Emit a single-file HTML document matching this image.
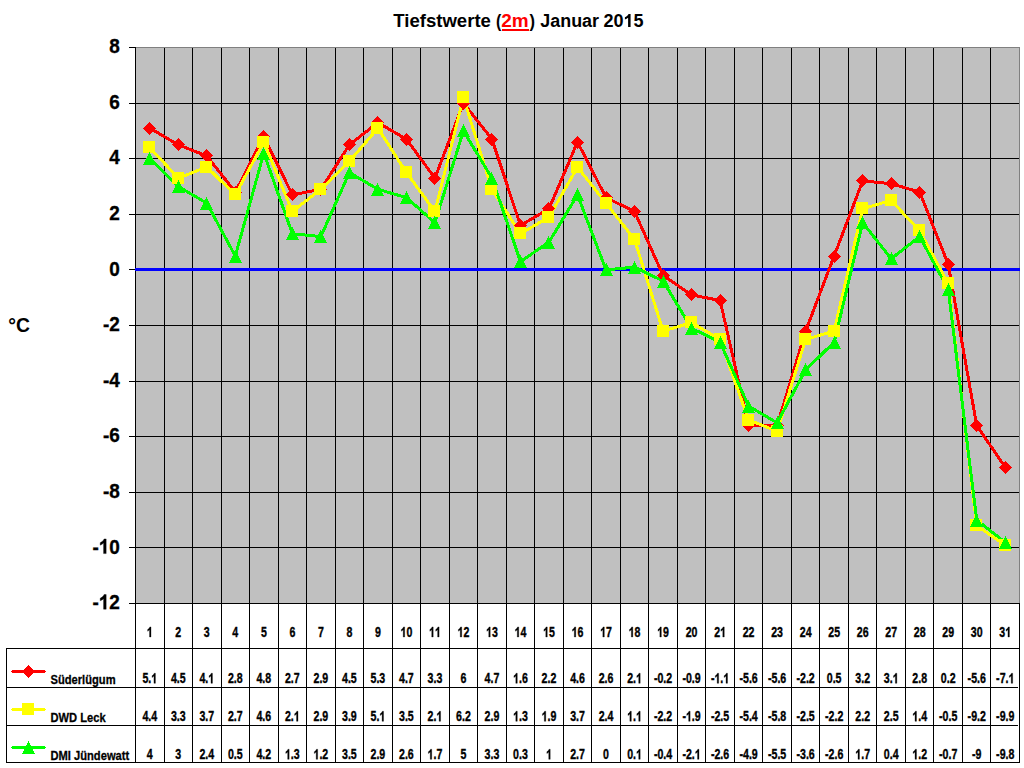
<!DOCTYPE html>
<html><head><meta charset="utf-8"><title>Tiefstwerte (2m) Januar 2015</title>
<style>html,body{margin:0;padding:0;background:#fff;width:1024px;height:768px;overflow:hidden}svg{display:block}text{font-family:"Liberation Sans",sans-serif;font-weight:bold;fill:#000}</style>
</head><body>
<svg width="1024" height="768" viewBox="0 0 1024 768">
<rect width="1024" height="768" fill="#fff"/>
<rect x="135" y="47" width="885" height="557" fill="#c0c0c0"/>
<g shape-rendering="crispEdges">
<rect x="135" y="47" width="885" height="1" fill="#808080"/>
<rect x="1019" y="47" width="1" height="557" fill="#808080"/>
<rect x="129" y="47" width="7" height="1" fill="#000"/>
<rect x="129" y="103" width="890" height="1" fill="#000"/>
<rect x="129" y="158" width="890" height="1" fill="#000"/>
<rect x="129" y="214" width="890" height="1" fill="#000"/>
<rect x="129" y="269" width="890" height="1" fill="#000"/>
<rect x="129" y="325" width="890" height="1" fill="#000"/>
<rect x="129" y="381" width="890" height="1" fill="#000"/>
<rect x="129" y="436" width="890" height="1" fill="#000"/>
<rect x="129" y="492" width="890" height="1" fill="#000"/>
<rect x="129" y="547" width="890" height="1" fill="#000"/>
<rect x="129" y="603" width="890" height="1" fill="#000"/>
<rect x="135" y="47" width="1" height="716" fill="#000"/>
<rect x="164" y="48" width="1" height="715" fill="#000"/>
<rect x="192" y="48" width="1" height="715" fill="#000"/>
<rect x="221" y="48" width="1" height="715" fill="#000"/>
<rect x="249" y="48" width="1" height="715" fill="#000"/>
<rect x="278" y="48" width="1" height="715" fill="#000"/>
<rect x="306" y="48" width="1" height="715" fill="#000"/>
<rect x="335" y="48" width="1" height="715" fill="#000"/>
<rect x="363" y="48" width="1" height="715" fill="#000"/>
<rect x="392" y="48" width="1" height="715" fill="#000"/>
<rect x="420" y="48" width="1" height="715" fill="#000"/>
<rect x="449" y="48" width="1" height="715" fill="#000"/>
<rect x="477" y="48" width="1" height="715" fill="#000"/>
<rect x="506" y="48" width="1" height="715" fill="#000"/>
<rect x="534" y="48" width="1" height="715" fill="#000"/>
<rect x="563" y="48" width="1" height="715" fill="#000"/>
<rect x="591" y="48" width="1" height="715" fill="#000"/>
<rect x="620" y="48" width="1" height="715" fill="#000"/>
<rect x="648" y="48" width="1" height="715" fill="#000"/>
<rect x="677" y="48" width="1" height="715" fill="#000"/>
<rect x="705" y="48" width="1" height="715" fill="#000"/>
<rect x="734" y="48" width="1" height="715" fill="#000"/>
<rect x="762" y="48" width="1" height="715" fill="#000"/>
<rect x="791" y="48" width="1" height="715" fill="#000"/>
<rect x="819" y="48" width="1" height="715" fill="#000"/>
<rect x="848" y="48" width="1" height="715" fill="#000"/>
<rect x="876" y="48" width="1" height="715" fill="#000"/>
<rect x="905" y="48" width="1" height="715" fill="#000"/>
<rect x="933" y="48" width="1" height="715" fill="#000"/>
<rect x="962" y="48" width="1" height="715" fill="#000"/>
<rect x="990" y="48" width="1" height="715" fill="#000"/>
<rect x="1019" y="603" width="1" height="160" fill="#000"/>
<rect x="6" y="648" width="1014" height="1" fill="#000"/>
<rect x="6" y="687" width="1012" height="1" fill="#000"/>
<rect x="6" y="725" width="1012" height="1" fill="#000"/>
<rect x="6" y="762" width="1014" height="1" fill="#000"/>
<rect x="6" y="648" width="1" height="115" fill="#000"/>
<rect x="135" y="268" width="885" height="3" fill="#0000ff"/>
</g>
<polyline points="149.76,128.12 178.27,144.80 206.79,155.92 235.31,192.06 263.82,136.46 292.34,194.84 320.85,189.28 349.37,144.80 377.89,122.56 406.40,139.24 434.92,178.16 463.44,103.10 491.95,139.24 520.47,225.42 548.98,208.74 577.50,142.02 606.02,197.62 634.53,211.52 663.05,275.46 691.56,294.92 720.08,300.48 748.60,425.58 777.11,425.58 805.63,331.06 834.15,256.00 862.66,180.94 891.18,183.72 919.69,192.06 948.21,264.34 976.73,425.58 1005.24,467.28" fill="none" stroke="#ff0000" stroke-width="3" stroke-linejoin="round" shape-rendering="crispEdges"/>
<polyline points="149.76,147.58 178.27,178.16 206.79,167.04 235.31,194.84 263.82,142.02 292.34,211.52 320.85,189.28 349.37,161.48 377.89,128.12 406.40,172.60 434.92,211.52 463.44,97.54 491.95,189.28 520.47,233.76 548.98,217.08 577.50,167.04 606.02,203.18 634.53,239.32 663.05,331.06 691.56,322.72 720.08,339.40 748.60,420.02 777.11,431.14 805.63,339.40 834.15,331.06 862.66,208.74 891.18,200.40 919.69,230.98 948.21,283.80 976.73,525.66 1005.24,545.12" fill="none" stroke="#ffff00" stroke-width="3" stroke-linejoin="round" shape-rendering="crispEdges"/>
<polyline points="149.76,158.70 178.27,186.50 206.79,203.18 235.31,256.00 263.82,153.14 292.34,233.76 320.85,236.54 349.37,172.60 377.89,189.28 406.40,197.62 434.92,222.64 463.44,130.90 491.95,178.16 520.47,261.56 548.98,242.10 577.50,194.84 606.02,269.90 634.53,267.12 663.05,281.02 691.56,328.28 720.08,342.18 748.60,406.12 777.11,422.80 805.63,369.98 834.15,342.18 862.66,222.64 891.18,258.78 919.69,236.54 948.21,289.36 976.73,520.10 1005.24,542.34" fill="none" stroke="#00ff00" stroke-width="3" stroke-linejoin="round" shape-rendering="crispEdges"/>
<path d="M143.0,128.5L149.5,122.0L156.0,128.5L149.5,135.0Z" fill="#ff0000" shape-rendering="crispEdges"/>
<path d="M172.0,144.5L178.5,138.0L185.0,144.5L178.5,151.0Z" fill="#ff0000" shape-rendering="crispEdges"/>
<path d="M200.0,155.5L206.5,149.0L213.0,155.5L206.5,162.0Z" fill="#ff0000" shape-rendering="crispEdges"/>
<path d="M229.0,192.5L235.5,186.0L242.0,192.5L235.5,199.0Z" fill="#ff0000" shape-rendering="crispEdges"/>
<path d="M257.0,136.5L263.5,130.0L270.0,136.5L263.5,143.0Z" fill="#ff0000" shape-rendering="crispEdges"/>
<path d="M286.0,194.5L292.5,188.0L299.0,194.5L292.5,201.0Z" fill="#ff0000" shape-rendering="crispEdges"/>
<path d="M314.0,189.5L320.5,183.0L327.0,189.5L320.5,196.0Z" fill="#ff0000" shape-rendering="crispEdges"/>
<path d="M343.0,144.5L349.5,138.0L356.0,144.5L349.5,151.0Z" fill="#ff0000" shape-rendering="crispEdges"/>
<path d="M371.0,122.5L377.5,116.0L384.0,122.5L377.5,129.0Z" fill="#ff0000" shape-rendering="crispEdges"/>
<path d="M400.0,139.5L406.5,133.0L413.0,139.5L406.5,146.0Z" fill="#ff0000" shape-rendering="crispEdges"/>
<path d="M428.0,178.5L434.5,172.0L441.0,178.5L434.5,185.0Z" fill="#ff0000" shape-rendering="crispEdges"/>
<path d="M457.0,103.5L463.5,97.0L470.0,103.5L463.5,110.0Z" fill="#ff0000" shape-rendering="crispEdges"/>
<path d="M485.0,139.5L491.5,133.0L498.0,139.5L491.5,146.0Z" fill="#ff0000" shape-rendering="crispEdges"/>
<path d="M514.0,225.5L520.5,219.0L527.0,225.5L520.5,232.0Z" fill="#ff0000" shape-rendering="crispEdges"/>
<path d="M542.0,208.5L548.5,202.0L555.0,208.5L548.5,215.0Z" fill="#ff0000" shape-rendering="crispEdges"/>
<path d="M571.0,142.5L577.5,136.0L584.0,142.5L577.5,149.0Z" fill="#ff0000" shape-rendering="crispEdges"/>
<path d="M600.0,197.5L606.5,191.0L613.0,197.5L606.5,204.0Z" fill="#ff0000" shape-rendering="crispEdges"/>
<path d="M628.0,211.5L634.5,205.0L641.0,211.5L634.5,218.0Z" fill="#ff0000" shape-rendering="crispEdges"/>
<path d="M657.0,275.5L663.5,269.0L670.0,275.5L663.5,282.0Z" fill="#ff0000" shape-rendering="crispEdges"/>
<path d="M685.0,294.5L691.5,288.0L698.0,294.5L691.5,301.0Z" fill="#ff0000" shape-rendering="crispEdges"/>
<path d="M714.0,300.5L720.5,294.0L727.0,300.5L720.5,307.0Z" fill="#ff0000" shape-rendering="crispEdges"/>
<path d="M742.0,425.5L748.5,419.0L755.0,425.5L748.5,432.0Z" fill="#ff0000" shape-rendering="crispEdges"/>
<path d="M771.0,425.5L777.5,419.0L784.0,425.5L777.5,432.0Z" fill="#ff0000" shape-rendering="crispEdges"/>
<path d="M799.0,331.5L805.5,325.0L812.0,331.5L805.5,338.0Z" fill="#ff0000" shape-rendering="crispEdges"/>
<path d="M828.0,256.5L834.5,250.0L841.0,256.5L834.5,263.0Z" fill="#ff0000" shape-rendering="crispEdges"/>
<path d="M856.0,180.5L862.5,174.0L869.0,180.5L862.5,187.0Z" fill="#ff0000" shape-rendering="crispEdges"/>
<path d="M885.0,183.5L891.5,177.0L898.0,183.5L891.5,190.0Z" fill="#ff0000" shape-rendering="crispEdges"/>
<path d="M913.0,192.5L919.5,186.0L926.0,192.5L919.5,199.0Z" fill="#ff0000" shape-rendering="crispEdges"/>
<path d="M942.0,264.5L948.5,258.0L955.0,264.5L948.5,271.0Z" fill="#ff0000" shape-rendering="crispEdges"/>
<path d="M970.0,425.5L976.5,419.0L983.0,425.5L976.5,432.0Z" fill="#ff0000" shape-rendering="crispEdges"/>
<path d="M999.0,467.5L1005.5,461.0L1012.0,467.5L1005.5,474.0Z" fill="#ff0000" shape-rendering="crispEdges"/>
<rect x="143" y="141" width="12" height="12" fill="#ffff00" shape-rendering="crispEdges"/>
<rect x="172" y="172" width="12" height="12" fill="#ffff00" shape-rendering="crispEdges"/>
<rect x="200" y="161" width="12" height="12" fill="#ffff00" shape-rendering="crispEdges"/>
<rect x="229" y="188" width="12" height="12" fill="#ffff00" shape-rendering="crispEdges"/>
<rect x="257" y="136" width="12" height="12" fill="#ffff00" shape-rendering="crispEdges"/>
<rect x="286" y="205" width="12" height="12" fill="#ffff00" shape-rendering="crispEdges"/>
<rect x="314" y="183" width="12" height="12" fill="#ffff00" shape-rendering="crispEdges"/>
<rect x="343" y="155" width="12" height="12" fill="#ffff00" shape-rendering="crispEdges"/>
<rect x="371" y="122" width="12" height="12" fill="#ffff00" shape-rendering="crispEdges"/>
<rect x="400" y="166" width="12" height="12" fill="#ffff00" shape-rendering="crispEdges"/>
<rect x="428" y="205" width="12" height="12" fill="#ffff00" shape-rendering="crispEdges"/>
<rect x="457" y="91" width="12" height="12" fill="#ffff00" shape-rendering="crispEdges"/>
<rect x="485" y="183" width="12" height="12" fill="#ffff00" shape-rendering="crispEdges"/>
<rect x="514" y="227" width="12" height="12" fill="#ffff00" shape-rendering="crispEdges"/>
<rect x="542" y="211" width="12" height="12" fill="#ffff00" shape-rendering="crispEdges"/>
<rect x="571" y="161" width="12" height="12" fill="#ffff00" shape-rendering="crispEdges"/>
<rect x="600" y="197" width="12" height="12" fill="#ffff00" shape-rendering="crispEdges"/>
<rect x="628" y="233" width="12" height="12" fill="#ffff00" shape-rendering="crispEdges"/>
<rect x="657" y="325" width="12" height="12" fill="#ffff00" shape-rendering="crispEdges"/>
<rect x="685" y="316" width="12" height="12" fill="#ffff00" shape-rendering="crispEdges"/>
<rect x="714" y="333" width="12" height="12" fill="#ffff00" shape-rendering="crispEdges"/>
<rect x="742" y="414" width="12" height="12" fill="#ffff00" shape-rendering="crispEdges"/>
<rect x="771" y="425" width="12" height="12" fill="#ffff00" shape-rendering="crispEdges"/>
<rect x="799" y="333" width="12" height="12" fill="#ffff00" shape-rendering="crispEdges"/>
<rect x="828" y="325" width="12" height="12" fill="#ffff00" shape-rendering="crispEdges"/>
<rect x="856" y="202" width="12" height="12" fill="#ffff00" shape-rendering="crispEdges"/>
<rect x="885" y="194" width="12" height="12" fill="#ffff00" shape-rendering="crispEdges"/>
<rect x="913" y="224" width="12" height="12" fill="#ffff00" shape-rendering="crispEdges"/>
<rect x="942" y="277" width="12" height="12" fill="#ffff00" shape-rendering="crispEdges"/>
<rect x="970" y="519" width="12" height="12" fill="#ffff00" shape-rendering="crispEdges"/>
<rect x="999" y="539" width="12" height="12" fill="#ffff00" shape-rendering="crispEdges"/>
<path d="M149.5,152.0L156.0,165.0L143.0,165.0Z" fill="#00ff00" shape-rendering="crispEdges"/>
<path d="M178.5,180.0L185.0,193.0L172.0,193.0Z" fill="#00ff00" shape-rendering="crispEdges"/>
<path d="M206.5,197.0L213.0,210.0L200.0,210.0Z" fill="#00ff00" shape-rendering="crispEdges"/>
<path d="M235.5,250.0L242.0,263.0L229.0,263.0Z" fill="#00ff00" shape-rendering="crispEdges"/>
<path d="M263.5,147.0L270.0,160.0L257.0,160.0Z" fill="#00ff00" shape-rendering="crispEdges"/>
<path d="M292.5,227.0L299.0,240.0L286.0,240.0Z" fill="#00ff00" shape-rendering="crispEdges"/>
<path d="M320.5,230.0L327.0,243.0L314.0,243.0Z" fill="#00ff00" shape-rendering="crispEdges"/>
<path d="M349.5,166.0L356.0,179.0L343.0,179.0Z" fill="#00ff00" shape-rendering="crispEdges"/>
<path d="M377.5,183.0L384.0,196.0L371.0,196.0Z" fill="#00ff00" shape-rendering="crispEdges"/>
<path d="M406.5,191.0L413.0,204.0L400.0,204.0Z" fill="#00ff00" shape-rendering="crispEdges"/>
<path d="M434.5,216.0L441.0,229.0L428.0,229.0Z" fill="#00ff00" shape-rendering="crispEdges"/>
<path d="M463.5,124.0L470.0,137.0L457.0,137.0Z" fill="#00ff00" shape-rendering="crispEdges"/>
<path d="M491.5,172.0L498.0,185.0L485.0,185.0Z" fill="#00ff00" shape-rendering="crispEdges"/>
<path d="M520.5,255.0L527.0,268.0L514.0,268.0Z" fill="#00ff00" shape-rendering="crispEdges"/>
<path d="M548.5,236.0L555.0,249.0L542.0,249.0Z" fill="#00ff00" shape-rendering="crispEdges"/>
<path d="M577.5,188.0L584.0,201.0L571.0,201.0Z" fill="#00ff00" shape-rendering="crispEdges"/>
<path d="M606.5,263.0L613.0,276.0L600.0,276.0Z" fill="#00ff00" shape-rendering="crispEdges"/>
<path d="M634.5,261.0L641.0,274.0L628.0,274.0Z" fill="#00ff00" shape-rendering="crispEdges"/>
<path d="M663.5,275.0L670.0,288.0L657.0,288.0Z" fill="#00ff00" shape-rendering="crispEdges"/>
<path d="M691.5,322.0L698.0,335.0L685.0,335.0Z" fill="#00ff00" shape-rendering="crispEdges"/>
<path d="M720.5,336.0L727.0,349.0L714.0,349.0Z" fill="#00ff00" shape-rendering="crispEdges"/>
<path d="M748.5,400.0L755.0,413.0L742.0,413.0Z" fill="#00ff00" shape-rendering="crispEdges"/>
<path d="M777.5,416.0L784.0,429.0L771.0,429.0Z" fill="#00ff00" shape-rendering="crispEdges"/>
<path d="M805.5,363.0L812.0,376.0L799.0,376.0Z" fill="#00ff00" shape-rendering="crispEdges"/>
<path d="M834.5,336.0L841.0,349.0L828.0,349.0Z" fill="#00ff00" shape-rendering="crispEdges"/>
<path d="M862.5,216.0L869.0,229.0L856.0,229.0Z" fill="#00ff00" shape-rendering="crispEdges"/>
<path d="M891.5,252.0L898.0,265.0L885.0,265.0Z" fill="#00ff00" shape-rendering="crispEdges"/>
<path d="M919.5,230.0L926.0,243.0L913.0,243.0Z" fill="#00ff00" shape-rendering="crispEdges"/>
<path d="M948.5,283.0L955.0,296.0L942.0,296.0Z" fill="#00ff00" shape-rendering="crispEdges"/>
<path d="M976.5,514.0L983.0,527.0L970.0,527.0Z" fill="#00ff00" shape-rendering="crispEdges"/>
<path d="M1005.5,536.0L1012.0,549.0L999.0,549.0Z" fill="#00ff00" shape-rendering="crispEdges"/>
<text transform="translate(393.30,27) scale(1.0319,1)" font-size="18" font-family="Liberation Sans, sans-serif" font-weight="bold" style="fill:#000">Tiefstwerte</text>
<text transform="translate(496.12,27) scale(0.8800,1)" font-size="18" font-family="Liberation Sans, sans-serif" font-weight="bold" style="fill:#000">(</text>
<text transform="translate(501.25,27) scale(1.0542,1)" font-size="18" font-family="Liberation Sans, sans-serif" font-weight="bold" style="fill:#ff0000">2m</text>
<text transform="translate(529.60,27) scale(0.9200,1)" font-size="18" font-family="Liberation Sans, sans-serif" font-weight="bold" style="fill:#000">)</text>
<text transform="translate(540.30,27) scale(0.9949,1)" font-size="18" font-family="Liberation Sans, sans-serif" font-weight="bold" style="fill:#000">Januar</text>
<g transform="translate(603.40,27.00) scale(1.0026,1)" style="fill:#000"><text x="0.00" font-size="18" font-family="Liberation Sans, sans-serif" font-weight="bold" style="fill:#000">20</text><path transform="translate(20.02,0) scale(0.008789,-0.008789)" d="M806 0L525 0L525 1059Q371 915 162 846L162 1101Q272 1137 401 1237.5Q530 1338 578 1472L806 1472Z"/><text x="30.02" font-size="18" font-family="Liberation Sans, sans-serif" font-weight="bold" style="fill:#000">5</text></g>
<rect x="502" y="29" width="27" height="2" fill="#ff0000" shape-rendering="crispEdges"/>
<g transform="translate(119.80,53.20) scale(0.93,1)" style="fill:#000" stroke="#000" stroke-width="0.35"><text x="-11.34" font-size="20.4" font-family="Liberation Sans, sans-serif" font-weight="bold" style="fill:#000">8</text></g>
<g transform="translate(119.80,108.80) scale(0.93,1)" style="fill:#000" stroke="#000" stroke-width="0.35"><text x="-11.34" font-size="20.4" font-family="Liberation Sans, sans-serif" font-weight="bold" style="fill:#000">6</text></g>
<g transform="translate(119.80,164.40) scale(0.93,1)" style="fill:#000" stroke="#000" stroke-width="0.35"><text x="-11.34" font-size="20.4" font-family="Liberation Sans, sans-serif" font-weight="bold" style="fill:#000">4</text></g>
<g transform="translate(119.80,220.00) scale(0.93,1)" style="fill:#000" stroke="#000" stroke-width="0.35"><text x="-11.34" font-size="20.4" font-family="Liberation Sans, sans-serif" font-weight="bold" style="fill:#000">2</text></g>
<g transform="translate(119.80,275.60) scale(0.93,1)" style="fill:#000" stroke="#000" stroke-width="0.35"><text x="-11.34" font-size="20.4" font-family="Liberation Sans, sans-serif" font-weight="bold" style="fill:#000">0</text></g>
<g transform="translate(119.80,331.20) scale(0.93,1)" style="fill:#000" stroke="#000" stroke-width="0.35"><text x="-18.14" font-size="20.4" font-family="Liberation Sans, sans-serif" font-weight="bold" style="fill:#000">-2</text></g>
<g transform="translate(119.80,386.80) scale(0.93,1)" style="fill:#000" stroke="#000" stroke-width="0.35"><text x="-18.14" font-size="20.4" font-family="Liberation Sans, sans-serif" font-weight="bold" style="fill:#000">-4</text></g>
<g transform="translate(119.80,442.40) scale(0.93,1)" style="fill:#000" stroke="#000" stroke-width="0.35"><text x="-18.14" font-size="20.4" font-family="Liberation Sans, sans-serif" font-weight="bold" style="fill:#000">-6</text></g>
<g transform="translate(119.80,498.00) scale(0.93,1)" style="fill:#000" stroke="#000" stroke-width="0.35"><text x="-18.14" font-size="20.4" font-family="Liberation Sans, sans-serif" font-weight="bold" style="fill:#000">-8</text></g>
<g transform="translate(119.80,553.60) scale(0.93,1)" style="fill:#000" stroke="#000" stroke-width="0.35"><text x="-29.48" font-size="20.4" font-family="Liberation Sans, sans-serif" font-weight="bold" style="fill:#000">-</text><path transform="translate(-22.68,0) scale(0.009961,-0.009961)" d="M806 0L525 0L525 1059Q371 915 162 846L162 1101Q272 1137 401 1237.5Q530 1338 578 1472L806 1472Z" stroke-width="35.1"/><text x="-11.34" font-size="20.4" font-family="Liberation Sans, sans-serif" font-weight="bold" style="fill:#000">0</text></g>
<g transform="translate(119.80,609.20) scale(0.93,1)" style="fill:#000" stroke="#000" stroke-width="0.35"><text x="-29.48" font-size="20.4" font-family="Liberation Sans, sans-serif" font-weight="bold" style="fill:#000">-</text><path transform="translate(-22.68,0) scale(0.009961,-0.009961)" d="M806 0L525 0L525 1059Q371 915 162 846L162 1101Q272 1137 401 1237.5Q530 1338 578 1472L806 1472Z" stroke-width="35.1"/><text x="-11.34" font-size="20.4" font-family="Liberation Sans, sans-serif" font-weight="bold" style="fill:#000">2</text></g>
<text transform="translate(8.3,331.8) scale(0.95,1)" font-size="20.4" font-family="Liberation Sans, sans-serif" font-weight="bold">°C</text>
<g transform="translate(149.76,637.00) scale(0.758,1)" style="fill:#000" stroke="#000" stroke-width="0.35"><path transform="translate(-3.89,0) scale(0.006836,-0.006836)" d="M806 0L525 0L525 1059Q371 915 162 846L162 1101Q272 1137 401 1237.5Q530 1338 578 1472L806 1472Z" stroke-width="51.2"/></g>
<g transform="translate(178.27,637.00) scale(0.758,1)" style="fill:#000" stroke="#000" stroke-width="0.35"><text x="-3.89" font-size="14" font-family="Liberation Sans, sans-serif" font-weight="bold" style="fill:#000">2</text></g>
<g transform="translate(206.79,637.00) scale(0.758,1)" style="fill:#000" stroke="#000" stroke-width="0.35"><text x="-3.89" font-size="14" font-family="Liberation Sans, sans-serif" font-weight="bold" style="fill:#000">3</text></g>
<g transform="translate(235.31,637.00) scale(0.758,1)" style="fill:#000" stroke="#000" stroke-width="0.35"><text x="-3.89" font-size="14" font-family="Liberation Sans, sans-serif" font-weight="bold" style="fill:#000">4</text></g>
<g transform="translate(263.82,637.00) scale(0.758,1)" style="fill:#000" stroke="#000" stroke-width="0.35"><text x="-3.89" font-size="14" font-family="Liberation Sans, sans-serif" font-weight="bold" style="fill:#000">5</text></g>
<g transform="translate(292.34,637.00) scale(0.758,1)" style="fill:#000" stroke="#000" stroke-width="0.35"><text x="-3.89" font-size="14" font-family="Liberation Sans, sans-serif" font-weight="bold" style="fill:#000">6</text></g>
<g transform="translate(320.85,637.00) scale(0.758,1)" style="fill:#000" stroke="#000" stroke-width="0.35"><text x="-3.89" font-size="14" font-family="Liberation Sans, sans-serif" font-weight="bold" style="fill:#000">7</text></g>
<g transform="translate(349.37,637.00) scale(0.758,1)" style="fill:#000" stroke="#000" stroke-width="0.35"><text x="-3.89" font-size="14" font-family="Liberation Sans, sans-serif" font-weight="bold" style="fill:#000">8</text></g>
<g transform="translate(377.89,637.00) scale(0.758,1)" style="fill:#000" stroke="#000" stroke-width="0.35"><text x="-3.89" font-size="14" font-family="Liberation Sans, sans-serif" font-weight="bold" style="fill:#000">9</text></g>
<g transform="translate(406.40,637.00) scale(0.758,1)" style="fill:#000" stroke="#000" stroke-width="0.35"><path transform="translate(-7.78,0) scale(0.006836,-0.006836)" d="M806 0L525 0L525 1059Q371 915 162 846L162 1101Q272 1137 401 1237.5Q530 1338 578 1472L806 1472Z" stroke-width="51.2"/><text x="0.00" font-size="14" font-family="Liberation Sans, sans-serif" font-weight="bold" style="fill:#000">0</text></g>
<g transform="translate(434.92,637.00) scale(0.758,1)" style="fill:#000" stroke="#000" stroke-width="0.35"><path transform="translate(-7.78,0) scale(0.006836,-0.006836)" d="M806 0L525 0L525 1059Q371 915 162 846L162 1101Q272 1137 401 1237.5Q530 1338 578 1472L806 1472Z" stroke-width="51.2"/><path transform="translate(0.00,0) scale(0.006836,-0.006836)" d="M806 0L525 0L525 1059Q371 915 162 846L162 1101Q272 1137 401 1237.5Q530 1338 578 1472L806 1472Z" stroke-width="51.2"/></g>
<g transform="translate(463.44,637.00) scale(0.758,1)" style="fill:#000" stroke="#000" stroke-width="0.35"><path transform="translate(-7.78,0) scale(0.006836,-0.006836)" d="M806 0L525 0L525 1059Q371 915 162 846L162 1101Q272 1137 401 1237.5Q530 1338 578 1472L806 1472Z" stroke-width="51.2"/><text x="0.00" font-size="14" font-family="Liberation Sans, sans-serif" font-weight="bold" style="fill:#000">2</text></g>
<g transform="translate(491.95,637.00) scale(0.758,1)" style="fill:#000" stroke="#000" stroke-width="0.35"><path transform="translate(-7.78,0) scale(0.006836,-0.006836)" d="M806 0L525 0L525 1059Q371 915 162 846L162 1101Q272 1137 401 1237.5Q530 1338 578 1472L806 1472Z" stroke-width="51.2"/><text x="0.00" font-size="14" font-family="Liberation Sans, sans-serif" font-weight="bold" style="fill:#000">3</text></g>
<g transform="translate(520.47,637.00) scale(0.758,1)" style="fill:#000" stroke="#000" stroke-width="0.35"><path transform="translate(-7.78,0) scale(0.006836,-0.006836)" d="M806 0L525 0L525 1059Q371 915 162 846L162 1101Q272 1137 401 1237.5Q530 1338 578 1472L806 1472Z" stroke-width="51.2"/><text x="0.00" font-size="14" font-family="Liberation Sans, sans-serif" font-weight="bold" style="fill:#000">4</text></g>
<g transform="translate(548.98,637.00) scale(0.758,1)" style="fill:#000" stroke="#000" stroke-width="0.35"><path transform="translate(-7.78,0) scale(0.006836,-0.006836)" d="M806 0L525 0L525 1059Q371 915 162 846L162 1101Q272 1137 401 1237.5Q530 1338 578 1472L806 1472Z" stroke-width="51.2"/><text x="0.00" font-size="14" font-family="Liberation Sans, sans-serif" font-weight="bold" style="fill:#000">5</text></g>
<g transform="translate(577.50,637.00) scale(0.758,1)" style="fill:#000" stroke="#000" stroke-width="0.35"><path transform="translate(-7.78,0) scale(0.006836,-0.006836)" d="M806 0L525 0L525 1059Q371 915 162 846L162 1101Q272 1137 401 1237.5Q530 1338 578 1472L806 1472Z" stroke-width="51.2"/><text x="0.00" font-size="14" font-family="Liberation Sans, sans-serif" font-weight="bold" style="fill:#000">6</text></g>
<g transform="translate(606.02,637.00) scale(0.758,1)" style="fill:#000" stroke="#000" stroke-width="0.35"><path transform="translate(-7.78,0) scale(0.006836,-0.006836)" d="M806 0L525 0L525 1059Q371 915 162 846L162 1101Q272 1137 401 1237.5Q530 1338 578 1472L806 1472Z" stroke-width="51.2"/><text x="0.00" font-size="14" font-family="Liberation Sans, sans-serif" font-weight="bold" style="fill:#000">7</text></g>
<g transform="translate(634.53,637.00) scale(0.758,1)" style="fill:#000" stroke="#000" stroke-width="0.35"><path transform="translate(-7.78,0) scale(0.006836,-0.006836)" d="M806 0L525 0L525 1059Q371 915 162 846L162 1101Q272 1137 401 1237.5Q530 1338 578 1472L806 1472Z" stroke-width="51.2"/><text x="0.00" font-size="14" font-family="Liberation Sans, sans-serif" font-weight="bold" style="fill:#000">8</text></g>
<g transform="translate(663.05,637.00) scale(0.758,1)" style="fill:#000" stroke="#000" stroke-width="0.35"><path transform="translate(-7.78,0) scale(0.006836,-0.006836)" d="M806 0L525 0L525 1059Q371 915 162 846L162 1101Q272 1137 401 1237.5Q530 1338 578 1472L806 1472Z" stroke-width="51.2"/><text x="0.00" font-size="14" font-family="Liberation Sans, sans-serif" font-weight="bold" style="fill:#000">9</text></g>
<g transform="translate(691.56,637.00) scale(0.758,1)" style="fill:#000" stroke="#000" stroke-width="0.35"><text x="-7.78" font-size="14" font-family="Liberation Sans, sans-serif" font-weight="bold" style="fill:#000">20</text></g>
<g transform="translate(720.08,637.00) scale(0.758,1)" style="fill:#000" stroke="#000" stroke-width="0.35"><text x="-7.78" font-size="14" font-family="Liberation Sans, sans-serif" font-weight="bold" style="fill:#000">2</text><path transform="translate(0.00,0) scale(0.006836,-0.006836)" d="M806 0L525 0L525 1059Q371 915 162 846L162 1101Q272 1137 401 1237.5Q530 1338 578 1472L806 1472Z" stroke-width="51.2"/></g>
<g transform="translate(748.60,637.00) scale(0.758,1)" style="fill:#000" stroke="#000" stroke-width="0.35"><text x="-7.78" font-size="14" font-family="Liberation Sans, sans-serif" font-weight="bold" style="fill:#000">22</text></g>
<g transform="translate(777.11,637.00) scale(0.758,1)" style="fill:#000" stroke="#000" stroke-width="0.35"><text x="-7.78" font-size="14" font-family="Liberation Sans, sans-serif" font-weight="bold" style="fill:#000">23</text></g>
<g transform="translate(805.63,637.00) scale(0.758,1)" style="fill:#000" stroke="#000" stroke-width="0.35"><text x="-7.78" font-size="14" font-family="Liberation Sans, sans-serif" font-weight="bold" style="fill:#000">24</text></g>
<g transform="translate(834.15,637.00) scale(0.758,1)" style="fill:#000" stroke="#000" stroke-width="0.35"><text x="-7.78" font-size="14" font-family="Liberation Sans, sans-serif" font-weight="bold" style="fill:#000">25</text></g>
<g transform="translate(862.66,637.00) scale(0.758,1)" style="fill:#000" stroke="#000" stroke-width="0.35"><text x="-7.78" font-size="14" font-family="Liberation Sans, sans-serif" font-weight="bold" style="fill:#000">26</text></g>
<g transform="translate(891.18,637.00) scale(0.758,1)" style="fill:#000" stroke="#000" stroke-width="0.35"><text x="-7.78" font-size="14" font-family="Liberation Sans, sans-serif" font-weight="bold" style="fill:#000">27</text></g>
<g transform="translate(919.69,637.00) scale(0.758,1)" style="fill:#000" stroke="#000" stroke-width="0.35"><text x="-7.78" font-size="14" font-family="Liberation Sans, sans-serif" font-weight="bold" style="fill:#000">28</text></g>
<g transform="translate(948.21,637.00) scale(0.758,1)" style="fill:#000" stroke="#000" stroke-width="0.35"><text x="-7.78" font-size="14" font-family="Liberation Sans, sans-serif" font-weight="bold" style="fill:#000">29</text></g>
<g transform="translate(976.73,637.00) scale(0.758,1)" style="fill:#000" stroke="#000" stroke-width="0.35"><text x="-7.78" font-size="14" font-family="Liberation Sans, sans-serif" font-weight="bold" style="fill:#000">30</text></g>
<g transform="translate(1005.24,637.00) scale(0.758,1)" style="fill:#000" stroke="#000" stroke-width="0.35"><text x="-7.78" font-size="14" font-family="Liberation Sans, sans-serif" font-weight="bold" style="fill:#000">3</text><path transform="translate(0.00,0) scale(0.006836,-0.006836)" d="M806 0L525 0L525 1059Q371 915 162 846L162 1101Q272 1137 401 1237.5Q530 1338 578 1472L806 1472Z" stroke-width="51.2"/></g>
<g transform="translate(149.76,683.30) scale(0.758,1)" style="fill:#000" stroke="#000" stroke-width="0.35"><text x="-9.73" font-size="14" font-family="Liberation Sans, sans-serif" font-weight="bold" style="fill:#000">5.</text><path transform="translate(1.95,0) scale(0.006836,-0.006836)" d="M806 0L525 0L525 1059Q371 915 162 846L162 1101Q272 1137 401 1237.5Q530 1338 578 1472L806 1472Z" stroke-width="51.2"/></g>
<g transform="translate(178.27,683.30) scale(0.758,1)" style="fill:#000" stroke="#000" stroke-width="0.35"><text x="-9.73" font-size="14" font-family="Liberation Sans, sans-serif" font-weight="bold" style="fill:#000">4.5</text></g>
<g transform="translate(206.79,683.30) scale(0.758,1)" style="fill:#000" stroke="#000" stroke-width="0.35"><text x="-9.73" font-size="14" font-family="Liberation Sans, sans-serif" font-weight="bold" style="fill:#000">4.</text><path transform="translate(1.95,0) scale(0.006836,-0.006836)" d="M806 0L525 0L525 1059Q371 915 162 846L162 1101Q272 1137 401 1237.5Q530 1338 578 1472L806 1472Z" stroke-width="51.2"/></g>
<g transform="translate(235.31,683.30) scale(0.758,1)" style="fill:#000" stroke="#000" stroke-width="0.35"><text x="-9.73" font-size="14" font-family="Liberation Sans, sans-serif" font-weight="bold" style="fill:#000">2.8</text></g>
<g transform="translate(263.82,683.30) scale(0.758,1)" style="fill:#000" stroke="#000" stroke-width="0.35"><text x="-9.73" font-size="14" font-family="Liberation Sans, sans-serif" font-weight="bold" style="fill:#000">4.8</text></g>
<g transform="translate(292.34,683.30) scale(0.758,1)" style="fill:#000" stroke="#000" stroke-width="0.35"><text x="-9.73" font-size="14" font-family="Liberation Sans, sans-serif" font-weight="bold" style="fill:#000">2.7</text></g>
<g transform="translate(320.85,683.30) scale(0.758,1)" style="fill:#000" stroke="#000" stroke-width="0.35"><text x="-9.73" font-size="14" font-family="Liberation Sans, sans-serif" font-weight="bold" style="fill:#000">2.9</text></g>
<g transform="translate(349.37,683.30) scale(0.758,1)" style="fill:#000" stroke="#000" stroke-width="0.35"><text x="-9.73" font-size="14" font-family="Liberation Sans, sans-serif" font-weight="bold" style="fill:#000">4.5</text></g>
<g transform="translate(377.89,683.30) scale(0.758,1)" style="fill:#000" stroke="#000" stroke-width="0.35"><text x="-9.73" font-size="14" font-family="Liberation Sans, sans-serif" font-weight="bold" style="fill:#000">5.3</text></g>
<g transform="translate(406.40,683.30) scale(0.758,1)" style="fill:#000" stroke="#000" stroke-width="0.35"><text x="-9.73" font-size="14" font-family="Liberation Sans, sans-serif" font-weight="bold" style="fill:#000">4.7</text></g>
<g transform="translate(434.92,683.30) scale(0.758,1)" style="fill:#000" stroke="#000" stroke-width="0.35"><text x="-9.73" font-size="14" font-family="Liberation Sans, sans-serif" font-weight="bold" style="fill:#000">3.3</text></g>
<g transform="translate(463.44,683.30) scale(0.758,1)" style="fill:#000" stroke="#000" stroke-width="0.35"><text x="-3.89" font-size="14" font-family="Liberation Sans, sans-serif" font-weight="bold" style="fill:#000">6</text></g>
<g transform="translate(491.95,683.30) scale(0.758,1)" style="fill:#000" stroke="#000" stroke-width="0.35"><text x="-9.73" font-size="14" font-family="Liberation Sans, sans-serif" font-weight="bold" style="fill:#000">4.7</text></g>
<g transform="translate(520.47,683.30) scale(0.758,1)" style="fill:#000" stroke="#000" stroke-width="0.35"><path transform="translate(-9.73,0) scale(0.006836,-0.006836)" d="M806 0L525 0L525 1059Q371 915 162 846L162 1101Q272 1137 401 1237.5Q530 1338 578 1472L806 1472Z" stroke-width="51.2"/><text x="-1.95" font-size="14" font-family="Liberation Sans, sans-serif" font-weight="bold" style="fill:#000">.6</text></g>
<g transform="translate(548.98,683.30) scale(0.758,1)" style="fill:#000" stroke="#000" stroke-width="0.35"><text x="-9.73" font-size="14" font-family="Liberation Sans, sans-serif" font-weight="bold" style="fill:#000">2.2</text></g>
<g transform="translate(577.50,683.30) scale(0.758,1)" style="fill:#000" stroke="#000" stroke-width="0.35"><text x="-9.73" font-size="14" font-family="Liberation Sans, sans-serif" font-weight="bold" style="fill:#000">4.6</text></g>
<g transform="translate(606.02,683.30) scale(0.758,1)" style="fill:#000" stroke="#000" stroke-width="0.35"><text x="-9.73" font-size="14" font-family="Liberation Sans, sans-serif" font-weight="bold" style="fill:#000">2.6</text></g>
<g transform="translate(634.53,683.30) scale(0.758,1)" style="fill:#000" stroke="#000" stroke-width="0.35"><text x="-9.73" font-size="14" font-family="Liberation Sans, sans-serif" font-weight="bold" style="fill:#000">2.</text><path transform="translate(1.95,0) scale(0.006836,-0.006836)" d="M806 0L525 0L525 1059Q371 915 162 846L162 1101Q272 1137 401 1237.5Q530 1338 578 1472L806 1472Z" stroke-width="51.2"/></g>
<g transform="translate(663.05,683.30) scale(0.758,1)" style="fill:#000" stroke="#000" stroke-width="0.35"><text x="-12.06" font-size="14" font-family="Liberation Sans, sans-serif" font-weight="bold" style="fill:#000">-0.2</text></g>
<g transform="translate(691.56,683.30) scale(0.758,1)" style="fill:#000" stroke="#000" stroke-width="0.35"><text x="-12.06" font-size="14" font-family="Liberation Sans, sans-serif" font-weight="bold" style="fill:#000">-0.9</text></g>
<g transform="translate(720.08,683.30) scale(0.758,1)" style="fill:#000" stroke="#000" stroke-width="0.35"><text x="-12.06" font-size="14" font-family="Liberation Sans, sans-serif" font-weight="bold" style="fill:#000">-</text><path transform="translate(-7.40,0) scale(0.006836,-0.006836)" d="M806 0L525 0L525 1059Q371 915 162 846L162 1101Q272 1137 401 1237.5Q530 1338 578 1472L806 1472Z" stroke-width="51.2"/><text x="0.39" font-size="14" font-family="Liberation Sans, sans-serif" font-weight="bold" style="fill:#000">.</text><path transform="translate(4.28,0) scale(0.006836,-0.006836)" d="M806 0L525 0L525 1059Q371 915 162 846L162 1101Q272 1137 401 1237.5Q530 1338 578 1472L806 1472Z" stroke-width="51.2"/></g>
<g transform="translate(748.60,683.30) scale(0.758,1)" style="fill:#000" stroke="#000" stroke-width="0.35"><text x="-12.06" font-size="14" font-family="Liberation Sans, sans-serif" font-weight="bold" style="fill:#000">-5.6</text></g>
<g transform="translate(777.11,683.30) scale(0.758,1)" style="fill:#000" stroke="#000" stroke-width="0.35"><text x="-12.06" font-size="14" font-family="Liberation Sans, sans-serif" font-weight="bold" style="fill:#000">-5.6</text></g>
<g transform="translate(805.63,683.30) scale(0.758,1)" style="fill:#000" stroke="#000" stroke-width="0.35"><text x="-12.06" font-size="14" font-family="Liberation Sans, sans-serif" font-weight="bold" style="fill:#000">-2.2</text></g>
<g transform="translate(834.15,683.30) scale(0.758,1)" style="fill:#000" stroke="#000" stroke-width="0.35"><text x="-9.73" font-size="14" font-family="Liberation Sans, sans-serif" font-weight="bold" style="fill:#000">0.5</text></g>
<g transform="translate(862.66,683.30) scale(0.758,1)" style="fill:#000" stroke="#000" stroke-width="0.35"><text x="-9.73" font-size="14" font-family="Liberation Sans, sans-serif" font-weight="bold" style="fill:#000">3.2</text></g>
<g transform="translate(891.18,683.30) scale(0.758,1)" style="fill:#000" stroke="#000" stroke-width="0.35"><text x="-9.73" font-size="14" font-family="Liberation Sans, sans-serif" font-weight="bold" style="fill:#000">3.</text><path transform="translate(1.95,0) scale(0.006836,-0.006836)" d="M806 0L525 0L525 1059Q371 915 162 846L162 1101Q272 1137 401 1237.5Q530 1338 578 1472L806 1472Z" stroke-width="51.2"/></g>
<g transform="translate(919.69,683.30) scale(0.758,1)" style="fill:#000" stroke="#000" stroke-width="0.35"><text x="-9.73" font-size="14" font-family="Liberation Sans, sans-serif" font-weight="bold" style="fill:#000">2.8</text></g>
<g transform="translate(948.21,683.30) scale(0.758,1)" style="fill:#000" stroke="#000" stroke-width="0.35"><text x="-9.73" font-size="14" font-family="Liberation Sans, sans-serif" font-weight="bold" style="fill:#000">0.2</text></g>
<g transform="translate(976.73,683.30) scale(0.758,1)" style="fill:#000" stroke="#000" stroke-width="0.35"><text x="-12.06" font-size="14" font-family="Liberation Sans, sans-serif" font-weight="bold" style="fill:#000">-5.6</text></g>
<g transform="translate(1005.24,683.30) scale(0.758,1)" style="fill:#000" stroke="#000" stroke-width="0.35"><text x="-12.06" font-size="14" font-family="Liberation Sans, sans-serif" font-weight="bold" style="fill:#000">-7.</text><path transform="translate(4.28,0) scale(0.006836,-0.006836)" d="M806 0L525 0L525 1059Q371 915 162 846L162 1101Q272 1137 401 1237.5Q530 1338 578 1472L806 1472Z" stroke-width="51.2"/></g>
<g transform="translate(149.76,721.30) scale(0.758,1)" style="fill:#000" stroke="#000" stroke-width="0.35"><text x="-9.73" font-size="14" font-family="Liberation Sans, sans-serif" font-weight="bold" style="fill:#000">4.4</text></g>
<g transform="translate(178.27,721.30) scale(0.758,1)" style="fill:#000" stroke="#000" stroke-width="0.35"><text x="-9.73" font-size="14" font-family="Liberation Sans, sans-serif" font-weight="bold" style="fill:#000">3.3</text></g>
<g transform="translate(206.79,721.30) scale(0.758,1)" style="fill:#000" stroke="#000" stroke-width="0.35"><text x="-9.73" font-size="14" font-family="Liberation Sans, sans-serif" font-weight="bold" style="fill:#000">3.7</text></g>
<g transform="translate(235.31,721.30) scale(0.758,1)" style="fill:#000" stroke="#000" stroke-width="0.35"><text x="-9.73" font-size="14" font-family="Liberation Sans, sans-serif" font-weight="bold" style="fill:#000">2.7</text></g>
<g transform="translate(263.82,721.30) scale(0.758,1)" style="fill:#000" stroke="#000" stroke-width="0.35"><text x="-9.73" font-size="14" font-family="Liberation Sans, sans-serif" font-weight="bold" style="fill:#000">4.6</text></g>
<g transform="translate(292.34,721.30) scale(0.758,1)" style="fill:#000" stroke="#000" stroke-width="0.35"><text x="-9.73" font-size="14" font-family="Liberation Sans, sans-serif" font-weight="bold" style="fill:#000">2.</text><path transform="translate(1.95,0) scale(0.006836,-0.006836)" d="M806 0L525 0L525 1059Q371 915 162 846L162 1101Q272 1137 401 1237.5Q530 1338 578 1472L806 1472Z" stroke-width="51.2"/></g>
<g transform="translate(320.85,721.30) scale(0.758,1)" style="fill:#000" stroke="#000" stroke-width="0.35"><text x="-9.73" font-size="14" font-family="Liberation Sans, sans-serif" font-weight="bold" style="fill:#000">2.9</text></g>
<g transform="translate(349.37,721.30) scale(0.758,1)" style="fill:#000" stroke="#000" stroke-width="0.35"><text x="-9.73" font-size="14" font-family="Liberation Sans, sans-serif" font-weight="bold" style="fill:#000">3.9</text></g>
<g transform="translate(377.89,721.30) scale(0.758,1)" style="fill:#000" stroke="#000" stroke-width="0.35"><text x="-9.73" font-size="14" font-family="Liberation Sans, sans-serif" font-weight="bold" style="fill:#000">5.</text><path transform="translate(1.95,0) scale(0.006836,-0.006836)" d="M806 0L525 0L525 1059Q371 915 162 846L162 1101Q272 1137 401 1237.5Q530 1338 578 1472L806 1472Z" stroke-width="51.2"/></g>
<g transform="translate(406.40,721.30) scale(0.758,1)" style="fill:#000" stroke="#000" stroke-width="0.35"><text x="-9.73" font-size="14" font-family="Liberation Sans, sans-serif" font-weight="bold" style="fill:#000">3.5</text></g>
<g transform="translate(434.92,721.30) scale(0.758,1)" style="fill:#000" stroke="#000" stroke-width="0.35"><text x="-9.73" font-size="14" font-family="Liberation Sans, sans-serif" font-weight="bold" style="fill:#000">2.</text><path transform="translate(1.95,0) scale(0.006836,-0.006836)" d="M806 0L525 0L525 1059Q371 915 162 846L162 1101Q272 1137 401 1237.5Q530 1338 578 1472L806 1472Z" stroke-width="51.2"/></g>
<g transform="translate(463.44,721.30) scale(0.758,1)" style="fill:#000" stroke="#000" stroke-width="0.35"><text x="-9.73" font-size="14" font-family="Liberation Sans, sans-serif" font-weight="bold" style="fill:#000">6.2</text></g>
<g transform="translate(491.95,721.30) scale(0.758,1)" style="fill:#000" stroke="#000" stroke-width="0.35"><text x="-9.73" font-size="14" font-family="Liberation Sans, sans-serif" font-weight="bold" style="fill:#000">2.9</text></g>
<g transform="translate(520.47,721.30) scale(0.758,1)" style="fill:#000" stroke="#000" stroke-width="0.35"><path transform="translate(-9.73,0) scale(0.006836,-0.006836)" d="M806 0L525 0L525 1059Q371 915 162 846L162 1101Q272 1137 401 1237.5Q530 1338 578 1472L806 1472Z" stroke-width="51.2"/><text x="-1.95" font-size="14" font-family="Liberation Sans, sans-serif" font-weight="bold" style="fill:#000">.3</text></g>
<g transform="translate(548.98,721.30) scale(0.758,1)" style="fill:#000" stroke="#000" stroke-width="0.35"><path transform="translate(-9.73,0) scale(0.006836,-0.006836)" d="M806 0L525 0L525 1059Q371 915 162 846L162 1101Q272 1137 401 1237.5Q530 1338 578 1472L806 1472Z" stroke-width="51.2"/><text x="-1.95" font-size="14" font-family="Liberation Sans, sans-serif" font-weight="bold" style="fill:#000">.9</text></g>
<g transform="translate(577.50,721.30) scale(0.758,1)" style="fill:#000" stroke="#000" stroke-width="0.35"><text x="-9.73" font-size="14" font-family="Liberation Sans, sans-serif" font-weight="bold" style="fill:#000">3.7</text></g>
<g transform="translate(606.02,721.30) scale(0.758,1)" style="fill:#000" stroke="#000" stroke-width="0.35"><text x="-9.73" font-size="14" font-family="Liberation Sans, sans-serif" font-weight="bold" style="fill:#000">2.4</text></g>
<g transform="translate(634.53,721.30) scale(0.758,1)" style="fill:#000" stroke="#000" stroke-width="0.35"><path transform="translate(-9.73,0) scale(0.006836,-0.006836)" d="M806 0L525 0L525 1059Q371 915 162 846L162 1101Q272 1137 401 1237.5Q530 1338 578 1472L806 1472Z" stroke-width="51.2"/><text x="-1.95" font-size="14" font-family="Liberation Sans, sans-serif" font-weight="bold" style="fill:#000">.</text><path transform="translate(1.95,0) scale(0.006836,-0.006836)" d="M806 0L525 0L525 1059Q371 915 162 846L162 1101Q272 1137 401 1237.5Q530 1338 578 1472L806 1472Z" stroke-width="51.2"/></g>
<g transform="translate(663.05,721.30) scale(0.758,1)" style="fill:#000" stroke="#000" stroke-width="0.35"><text x="-12.06" font-size="14" font-family="Liberation Sans, sans-serif" font-weight="bold" style="fill:#000">-2.2</text></g>
<g transform="translate(691.56,721.30) scale(0.758,1)" style="fill:#000" stroke="#000" stroke-width="0.35"><text x="-12.06" font-size="14" font-family="Liberation Sans, sans-serif" font-weight="bold" style="fill:#000">-</text><path transform="translate(-7.40,0) scale(0.006836,-0.006836)" d="M806 0L525 0L525 1059Q371 915 162 846L162 1101Q272 1137 401 1237.5Q530 1338 578 1472L806 1472Z" stroke-width="51.2"/><text x="0.39" font-size="14" font-family="Liberation Sans, sans-serif" font-weight="bold" style="fill:#000">.9</text></g>
<g transform="translate(720.08,721.30) scale(0.758,1)" style="fill:#000" stroke="#000" stroke-width="0.35"><text x="-12.06" font-size="14" font-family="Liberation Sans, sans-serif" font-weight="bold" style="fill:#000">-2.5</text></g>
<g transform="translate(748.60,721.30) scale(0.758,1)" style="fill:#000" stroke="#000" stroke-width="0.35"><text x="-12.06" font-size="14" font-family="Liberation Sans, sans-serif" font-weight="bold" style="fill:#000">-5.4</text></g>
<g transform="translate(777.11,721.30) scale(0.758,1)" style="fill:#000" stroke="#000" stroke-width="0.35"><text x="-12.06" font-size="14" font-family="Liberation Sans, sans-serif" font-weight="bold" style="fill:#000">-5.8</text></g>
<g transform="translate(805.63,721.30) scale(0.758,1)" style="fill:#000" stroke="#000" stroke-width="0.35"><text x="-12.06" font-size="14" font-family="Liberation Sans, sans-serif" font-weight="bold" style="fill:#000">-2.5</text></g>
<g transform="translate(834.15,721.30) scale(0.758,1)" style="fill:#000" stroke="#000" stroke-width="0.35"><text x="-12.06" font-size="14" font-family="Liberation Sans, sans-serif" font-weight="bold" style="fill:#000">-2.2</text></g>
<g transform="translate(862.66,721.30) scale(0.758,1)" style="fill:#000" stroke="#000" stroke-width="0.35"><text x="-9.73" font-size="14" font-family="Liberation Sans, sans-serif" font-weight="bold" style="fill:#000">2.2</text></g>
<g transform="translate(891.18,721.30) scale(0.758,1)" style="fill:#000" stroke="#000" stroke-width="0.35"><text x="-9.73" font-size="14" font-family="Liberation Sans, sans-serif" font-weight="bold" style="fill:#000">2.5</text></g>
<g transform="translate(919.69,721.30) scale(0.758,1)" style="fill:#000" stroke="#000" stroke-width="0.35"><path transform="translate(-9.73,0) scale(0.006836,-0.006836)" d="M806 0L525 0L525 1059Q371 915 162 846L162 1101Q272 1137 401 1237.5Q530 1338 578 1472L806 1472Z" stroke-width="51.2"/><text x="-1.95" font-size="14" font-family="Liberation Sans, sans-serif" font-weight="bold" style="fill:#000">.4</text></g>
<g transform="translate(948.21,721.30) scale(0.758,1)" style="fill:#000" stroke="#000" stroke-width="0.35"><text x="-12.06" font-size="14" font-family="Liberation Sans, sans-serif" font-weight="bold" style="fill:#000">-0.5</text></g>
<g transform="translate(976.73,721.30) scale(0.758,1)" style="fill:#000" stroke="#000" stroke-width="0.35"><text x="-12.06" font-size="14" font-family="Liberation Sans, sans-serif" font-weight="bold" style="fill:#000">-9.2</text></g>
<g transform="translate(1005.24,721.30) scale(0.758,1)" style="fill:#000" stroke="#000" stroke-width="0.35"><text x="-12.06" font-size="14" font-family="Liberation Sans, sans-serif" font-weight="bold" style="fill:#000">-9.9</text></g>
<g transform="translate(149.76,759.30) scale(0.758,1)" style="fill:#000" stroke="#000" stroke-width="0.35"><text x="-3.89" font-size="14" font-family="Liberation Sans, sans-serif" font-weight="bold" style="fill:#000">4</text></g>
<g transform="translate(178.27,759.30) scale(0.758,1)" style="fill:#000" stroke="#000" stroke-width="0.35"><text x="-3.89" font-size="14" font-family="Liberation Sans, sans-serif" font-weight="bold" style="fill:#000">3</text></g>
<g transform="translate(206.79,759.30) scale(0.758,1)" style="fill:#000" stroke="#000" stroke-width="0.35"><text x="-9.73" font-size="14" font-family="Liberation Sans, sans-serif" font-weight="bold" style="fill:#000">2.4</text></g>
<g transform="translate(235.31,759.30) scale(0.758,1)" style="fill:#000" stroke="#000" stroke-width="0.35"><text x="-9.73" font-size="14" font-family="Liberation Sans, sans-serif" font-weight="bold" style="fill:#000">0.5</text></g>
<g transform="translate(263.82,759.30) scale(0.758,1)" style="fill:#000" stroke="#000" stroke-width="0.35"><text x="-9.73" font-size="14" font-family="Liberation Sans, sans-serif" font-weight="bold" style="fill:#000">4.2</text></g>
<g transform="translate(292.34,759.30) scale(0.758,1)" style="fill:#000" stroke="#000" stroke-width="0.35"><path transform="translate(-9.73,0) scale(0.006836,-0.006836)" d="M806 0L525 0L525 1059Q371 915 162 846L162 1101Q272 1137 401 1237.5Q530 1338 578 1472L806 1472Z" stroke-width="51.2"/><text x="-1.95" font-size="14" font-family="Liberation Sans, sans-serif" font-weight="bold" style="fill:#000">.3</text></g>
<g transform="translate(320.85,759.30) scale(0.758,1)" style="fill:#000" stroke="#000" stroke-width="0.35"><path transform="translate(-9.73,0) scale(0.006836,-0.006836)" d="M806 0L525 0L525 1059Q371 915 162 846L162 1101Q272 1137 401 1237.5Q530 1338 578 1472L806 1472Z" stroke-width="51.2"/><text x="-1.95" font-size="14" font-family="Liberation Sans, sans-serif" font-weight="bold" style="fill:#000">.2</text></g>
<g transform="translate(349.37,759.30) scale(0.758,1)" style="fill:#000" stroke="#000" stroke-width="0.35"><text x="-9.73" font-size="14" font-family="Liberation Sans, sans-serif" font-weight="bold" style="fill:#000">3.5</text></g>
<g transform="translate(377.89,759.30) scale(0.758,1)" style="fill:#000" stroke="#000" stroke-width="0.35"><text x="-9.73" font-size="14" font-family="Liberation Sans, sans-serif" font-weight="bold" style="fill:#000">2.9</text></g>
<g transform="translate(406.40,759.30) scale(0.758,1)" style="fill:#000" stroke="#000" stroke-width="0.35"><text x="-9.73" font-size="14" font-family="Liberation Sans, sans-serif" font-weight="bold" style="fill:#000">2.6</text></g>
<g transform="translate(434.92,759.30) scale(0.758,1)" style="fill:#000" stroke="#000" stroke-width="0.35"><path transform="translate(-9.73,0) scale(0.006836,-0.006836)" d="M806 0L525 0L525 1059Q371 915 162 846L162 1101Q272 1137 401 1237.5Q530 1338 578 1472L806 1472Z" stroke-width="51.2"/><text x="-1.95" font-size="14" font-family="Liberation Sans, sans-serif" font-weight="bold" style="fill:#000">.7</text></g>
<g transform="translate(463.44,759.30) scale(0.758,1)" style="fill:#000" stroke="#000" stroke-width="0.35"><text x="-3.89" font-size="14" font-family="Liberation Sans, sans-serif" font-weight="bold" style="fill:#000">5</text></g>
<g transform="translate(491.95,759.30) scale(0.758,1)" style="fill:#000" stroke="#000" stroke-width="0.35"><text x="-9.73" font-size="14" font-family="Liberation Sans, sans-serif" font-weight="bold" style="fill:#000">3.3</text></g>
<g transform="translate(520.47,759.30) scale(0.758,1)" style="fill:#000" stroke="#000" stroke-width="0.35"><text x="-9.73" font-size="14" font-family="Liberation Sans, sans-serif" font-weight="bold" style="fill:#000">0.3</text></g>
<g transform="translate(548.98,759.30) scale(0.758,1)" style="fill:#000" stroke="#000" stroke-width="0.35"><path transform="translate(-3.89,0) scale(0.006836,-0.006836)" d="M806 0L525 0L525 1059Q371 915 162 846L162 1101Q272 1137 401 1237.5Q530 1338 578 1472L806 1472Z" stroke-width="51.2"/></g>
<g transform="translate(577.50,759.30) scale(0.758,1)" style="fill:#000" stroke="#000" stroke-width="0.35"><text x="-9.73" font-size="14" font-family="Liberation Sans, sans-serif" font-weight="bold" style="fill:#000">2.7</text></g>
<g transform="translate(606.02,759.30) scale(0.758,1)" style="fill:#000" stroke="#000" stroke-width="0.35"><text x="-3.89" font-size="14" font-family="Liberation Sans, sans-serif" font-weight="bold" style="fill:#000">0</text></g>
<g transform="translate(634.53,759.30) scale(0.758,1)" style="fill:#000" stroke="#000" stroke-width="0.35"><text x="-9.73" font-size="14" font-family="Liberation Sans, sans-serif" font-weight="bold" style="fill:#000">0.</text><path transform="translate(1.95,0) scale(0.006836,-0.006836)" d="M806 0L525 0L525 1059Q371 915 162 846L162 1101Q272 1137 401 1237.5Q530 1338 578 1472L806 1472Z" stroke-width="51.2"/></g>
<g transform="translate(663.05,759.30) scale(0.758,1)" style="fill:#000" stroke="#000" stroke-width="0.35"><text x="-12.06" font-size="14" font-family="Liberation Sans, sans-serif" font-weight="bold" style="fill:#000">-0.4</text></g>
<g transform="translate(691.56,759.30) scale(0.758,1)" style="fill:#000" stroke="#000" stroke-width="0.35"><text x="-12.06" font-size="14" font-family="Liberation Sans, sans-serif" font-weight="bold" style="fill:#000">-2.</text><path transform="translate(4.28,0) scale(0.006836,-0.006836)" d="M806 0L525 0L525 1059Q371 915 162 846L162 1101Q272 1137 401 1237.5Q530 1338 578 1472L806 1472Z" stroke-width="51.2"/></g>
<g transform="translate(720.08,759.30) scale(0.758,1)" style="fill:#000" stroke="#000" stroke-width="0.35"><text x="-12.06" font-size="14" font-family="Liberation Sans, sans-serif" font-weight="bold" style="fill:#000">-2.6</text></g>
<g transform="translate(748.60,759.30) scale(0.758,1)" style="fill:#000" stroke="#000" stroke-width="0.35"><text x="-12.06" font-size="14" font-family="Liberation Sans, sans-serif" font-weight="bold" style="fill:#000">-4.9</text></g>
<g transform="translate(777.11,759.30) scale(0.758,1)" style="fill:#000" stroke="#000" stroke-width="0.35"><text x="-12.06" font-size="14" font-family="Liberation Sans, sans-serif" font-weight="bold" style="fill:#000">-5.5</text></g>
<g transform="translate(805.63,759.30) scale(0.758,1)" style="fill:#000" stroke="#000" stroke-width="0.35"><text x="-12.06" font-size="14" font-family="Liberation Sans, sans-serif" font-weight="bold" style="fill:#000">-3.6</text></g>
<g transform="translate(834.15,759.30) scale(0.758,1)" style="fill:#000" stroke="#000" stroke-width="0.35"><text x="-12.06" font-size="14" font-family="Liberation Sans, sans-serif" font-weight="bold" style="fill:#000">-2.6</text></g>
<g transform="translate(862.66,759.30) scale(0.758,1)" style="fill:#000" stroke="#000" stroke-width="0.35"><path transform="translate(-9.73,0) scale(0.006836,-0.006836)" d="M806 0L525 0L525 1059Q371 915 162 846L162 1101Q272 1137 401 1237.5Q530 1338 578 1472L806 1472Z" stroke-width="51.2"/><text x="-1.95" font-size="14" font-family="Liberation Sans, sans-serif" font-weight="bold" style="fill:#000">.7</text></g>
<g transform="translate(891.18,759.30) scale(0.758,1)" style="fill:#000" stroke="#000" stroke-width="0.35"><text x="-9.73" font-size="14" font-family="Liberation Sans, sans-serif" font-weight="bold" style="fill:#000">0.4</text></g>
<g transform="translate(919.69,759.30) scale(0.758,1)" style="fill:#000" stroke="#000" stroke-width="0.35"><path transform="translate(-9.73,0) scale(0.006836,-0.006836)" d="M806 0L525 0L525 1059Q371 915 162 846L162 1101Q272 1137 401 1237.5Q530 1338 578 1472L806 1472Z" stroke-width="51.2"/><text x="-1.95" font-size="14" font-family="Liberation Sans, sans-serif" font-weight="bold" style="fill:#000">.2</text></g>
<g transform="translate(948.21,759.30) scale(0.758,1)" style="fill:#000" stroke="#000" stroke-width="0.35"><text x="-12.06" font-size="14" font-family="Liberation Sans, sans-serif" font-weight="bold" style="fill:#000">-0.7</text></g>
<g transform="translate(976.73,759.30) scale(0.758,1)" style="fill:#000" stroke="#000" stroke-width="0.35"><text x="-6.22" font-size="14" font-family="Liberation Sans, sans-serif" font-weight="bold" style="fill:#000">-9</text></g>
<g transform="translate(1005.24,759.30) scale(0.758,1)" style="fill:#000" stroke="#000" stroke-width="0.35"><text x="-12.06" font-size="14" font-family="Liberation Sans, sans-serif" font-weight="bold" style="fill:#000">-9.8</text></g>
<rect x="12" y="670" width="33" height="3" fill="#ff0000" shape-rendering="crispEdges"/><rect x="11" y="671" width="35" height="1" fill="#ff0000" shape-rendering="crispEdges"/>
<path d="M22.0,671.5L28.5,665.0L35.0,671.5L28.5,678.0Z" fill="#ff0000" shape-rendering="crispEdges"/>
<text transform="translate(50.50,683.8) scale(0.815,1)" font-size="13.7" font-family="Liberation Sans, sans-serif" font-weight="bold" text-anchor="start" stroke="#000" stroke-width="0.3">Süderlügum</text>
<rect x="12" y="708" width="33" height="3" fill="#ffff00" shape-rendering="crispEdges"/><rect x="11" y="709" width="35" height="1" fill="#ffff00" shape-rendering="crispEdges"/>
<rect x="22" y="703" width="12" height="12" fill="#ffff00" shape-rendering="crispEdges"/>
<text transform="translate(50.50,721.8) scale(0.815,1)" font-size="13.7" font-family="Liberation Sans, sans-serif" font-weight="bold" text-anchor="start" stroke="#000" stroke-width="0.3">DWD Leck</text>
<rect x="12" y="746" width="33" height="3" fill="#00ff00" shape-rendering="crispEdges"/><rect x="11" y="747" width="35" height="1" fill="#00ff00" shape-rendering="crispEdges"/>
<path d="M28.5,741.0L35.0,754.0L22.0,754.0Z" fill="#00ff00" shape-rendering="crispEdges"/>
<text transform="translate(50.50,759.8) scale(0.815,1)" font-size="13.7" font-family="Liberation Sans, sans-serif" font-weight="bold" text-anchor="start" stroke="#000" stroke-width="0.3">DMI Jündewatt</text>
</svg>
</body></html>
